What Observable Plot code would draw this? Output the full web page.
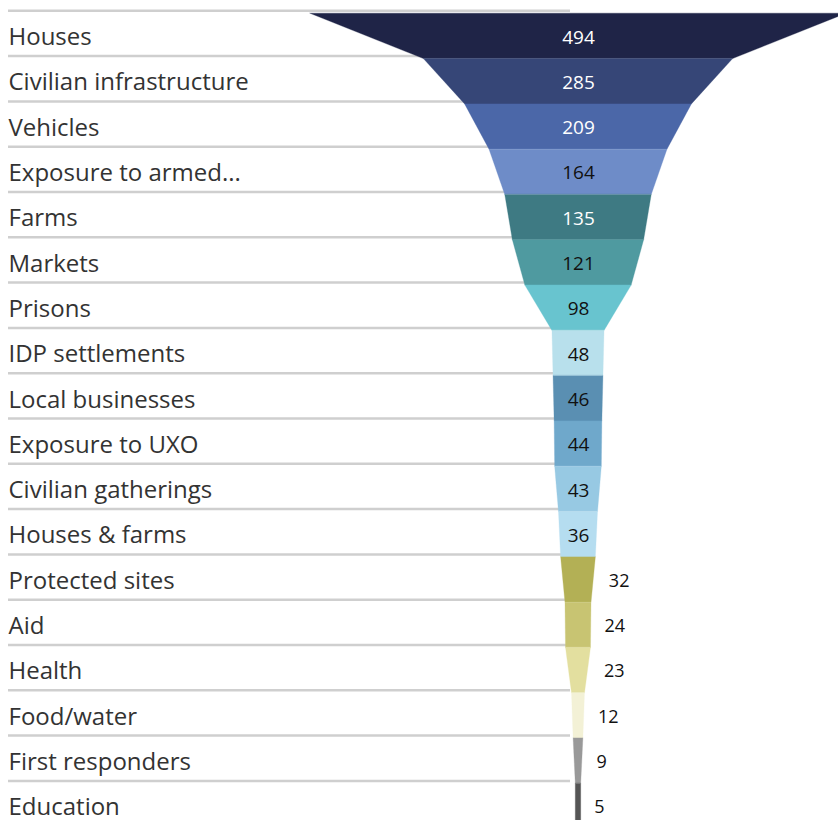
<!DOCTYPE html>
<html>
<head>
<meta charset="utf-8">
<script src="https://cdn.jsdelivr.net/npm/d3@7"></script>
<script src="https://cdn.jsdelivr.net/npm/@observablehq/plot@0.6"></script>
<style>
  html, body { margin: 0; padding: 0; background: #fff; overflow: hidden; }
  #chart svg { overflow: hidden; display: block; }
</style>
</head>
<body>
<div id="chart"></div>
<script>
const categories = [
  "Houses", "Civilian infrastructure", "Vehicles", "Exposure to armed...",
  "Farms", "Markets", "Prisons", "IDP settlements", "Local businesses",
  "Exposure to UXO", "Civilian gatherings", "Houses & farms", "Protected sites",
  "Aid", "Health", "Food/water", "First responders", "Education"
];
const values = [494, 285, 209, 164, 135, 121, 98, 48, 46, 44, 43, 36, 32, 24, 23, 12, 9, 5];
const palette = [
  "#1f2447", "#364677", "#4b67a8", "#6e8cc8", "#3e7a83", "#4f9aa0",
  "#68c4cf", "#b8e0ec", "#5a8fb2", "#6fa8cb", "#97c9e3", "#b5ddf0",
  "#b3b055", "#c8c472", "#e3df9f", "#f3f1d6", "#999999", "#555555"
];

const n = categories.length;
const rows = categories.map((c, i) => ({category: c, value: values[i], idx: i}));

// funnel segments: top width = own value, bottom width = next value
const segs = [];
rows.forEach((r, i) => {
  const next = i < n - 1 ? values[i + 1] : values[i];
  segs.push({category: r.category, y: i, half: r.value / 2});
  segs.push({category: r.category, y: i + 1, half: next / 2});
});

const maxV = d3.max(values);
const inside = rows.filter(r => r.value >= 35);
const outside = rows.filter(r => r.value < 35);
const colorOf = c => palette[categories.indexOf(c)];

const chart = Plot.plot({
  width: 838,
  height: 820,
  marginLeft: 8,
  marginRight: 268,
  marginTop: 13,
  marginBottom: 0,
  x: {domain: [-maxV / 2, maxV / 2], range: [310, 846], axis: null},
  y: {domain: [0, n], range: [13.3, 828.7], axis: null},
  color: {domain: categories, range: palette},
  style: {fontFamily: "'Open Sans', 'Noto Sans', sans-serif", background: "#fff"},
  marks: [
    Plot.ruleY(d3.range(n), {y: d => d, dy: -3, stroke: "#cfcfcf", strokeWidth: 2.5}),
    Plot.text(rows, {
      y: d => d.idx + 0.5, text: "category", frameAnchor: "left", textAnchor: "start",
      fontSize: 24, fill: "#333", dy: 1
    }),
    Plot.areaX(segs, {
      x1: d => -d.half, x2: d => d.half, y: "y", z: "category", fill: "category",
      stroke: "category", strokeWidth: 0.3
    }),
    Plot.text(inside, {
      x: 0, y: d => d.idx + 0.5, text: d => String(d.value), fontSize: 19, dy: 1,
      fill: d => d3.lab(colorOf(d.category)).l < 50 ? "#ffffff" : "#111111"
    }),
    Plot.text(outside, {
      x: d => d.value / 2, y: d => d.idx + 0.5, text: d => String(d.value), fontSize: 18,
      textAnchor: "start", dx: 13, dy: 1, fill: "#111"
    })
  ]
});
document.getElementById("chart").append(chart);
</script>
</body>
</html>
